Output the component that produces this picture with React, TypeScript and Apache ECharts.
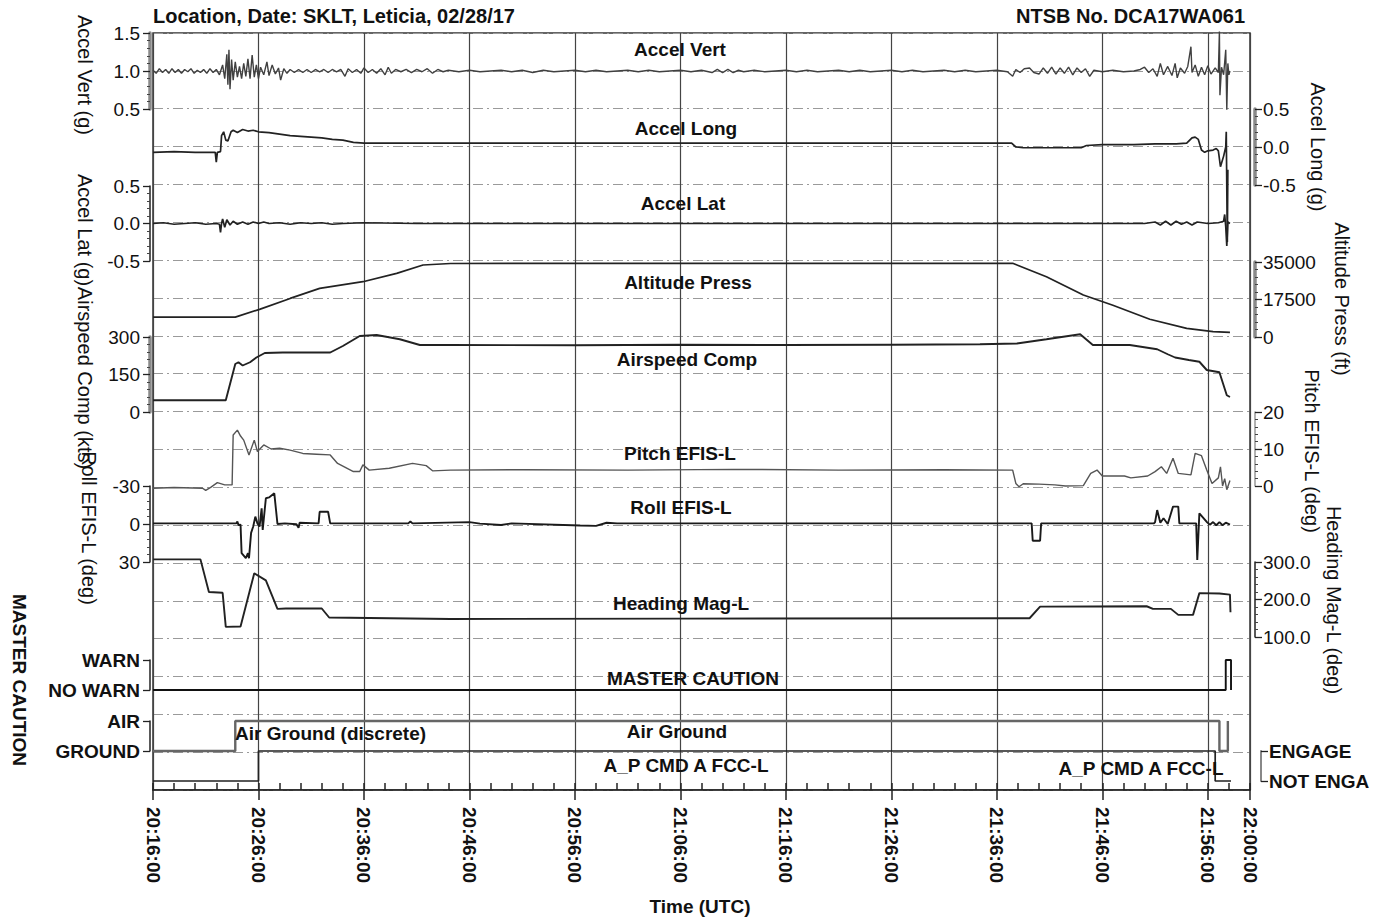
import React, { useEffect, useRef } from "react";
import * as echarts from "echarts";

// time in minutes after 20:16:00 UTC
const T_MAX = 104;

const accelVert: [number, number][] = [
  [0,1.01],[0.3,0.97],[0.6,1.03],[0.9,0.98],[1.2,1.02],[1.5,0.97],[1.8,1.03],[2.1,0.98],[2.4,1.02],[2.7,0.97],[3.0,1.02],[3.3,0.99],[3.6,1.03],[3.9,0.97],[4.2,1.01],[4.5,0.98],[4.8,1.02],[5.1,0.97],[5.4,1.03],[5.7,0.98],[6.0,1.02],[6.3,0.95],
  [6.6,1.08],[6.8,0.9],[7.0,1.22],[7.1,0.82],[7.2,1.28],[7.3,0.76],[7.45,1.15],[7.6,0.88],[7.8,1.12],[8.0,0.92],[8.2,1.06],[8.4,0.9],[8.6,1.1],[8.8,0.93],[9.0,1.16],[9.2,0.9],[9.4,1.21],[9.6,0.92],[9.8,1.08],[10.0,0.9],[10.2,1.05],[10.5,0.95],[10.8,1.12],[11.0,0.94],[11.3,1.08],[11.6,0.96],[11.9,1.04],[12.1,0.88],[12.4,1.03],[12.7,0.97],[13.0,1.02],[13.4,0.98],[13.8,1.02],[14.2,0.98],[14.6,1.02],[15.0,0.98],[15.4,1.02],[15.8,0.99],[16.2,1.02],[16.6,0.98],[17.0,1.02],[17.4,0.99],[17.8,1.02],[18.2,0.93],[18.5,1.03],[18.9,0.98],[19.3,1.02],[19.7,0.97],[20.0,1.04],[20.4,0.98],[20.8,1.02],[21.2,0.97],[21.6,1.03],[22.0,0.95],[22.3,1.05],[22.6,0.97],[23.0,1.02],[23.5,0.99],[24.0,1.02],[24.5,0.98],[25.0,1.02],[25.5,0.99],[26.0,1.03],[26.5,0.97],[27.0,1.02],[27.5,0.99],[28.0,1.01],
  [29,0.99],[30,1.01],[31,0.99],[32,1.0],[33,1.01],[34,0.99],[35,1.01],[36,0.98],[37,1.01],[38,0.99],[39,1.0],[40,1.01],[41,0.99],[42,1.01],[43,0.99],[44,1.0],[45,1.01],[46,0.99],[47,1.01],[48,0.99],[49,1.0],[50,1.01],[51,0.99],[52,1.01],[53,0.98],[53.5,1.02],[54,0.98],[54.5,1.02],[55,0.98],[55.5,1.01],[56,0.99],[57,1.01],[58,0.99],[59,1.0],[60,1.01],[61,0.99],[62,1.01],[63,0.99],[64,1.0],[65,1.01],[66,0.99],[67,1.01],[68,0.99],[69,1.0],[70,1.01],[71,0.99],[72,1.01],[73,0.99],[74,1.0],[75,1.01],[76,0.99],[77,1.01],[78,0.99],[79,1.0],[80,1.01],[81,0.99],
  [81.5,0.93],[81.8,1.02],[82.2,0.98],[82.6,1.03],[83.1,1.04],[83.5,0.98],[84.0,0.96],[84.4,1.04],[84.8,0.97],[85.2,1.05],[85.6,0.96],[86.0,1.04],[86.4,0.97],[86.8,1.05],[87.2,0.95],[87.6,1.04],[88.0,0.98],[88.4,1.03],[88.8,0.93],[89.2,1.01],[90,0.99],[91,1.01],[92,0.99],[93,1.0],[93.6,1.02],[94.0,1.05],[94.4,0.98],[94.8,1.03],[95.2,0.93],[95.5,1.1],[95.8,0.95],[96.2,1.06],[96.6,0.94],[96.9,1.1],[97.1,0.91],[97.4,1.04],[97.8,0.97],[98.1,1.06],[98.4,1.32],[98.5,0.98],[98.8,1.08],[99.1,0.93],[99.4,1.05],[99.7,0.95],[100.0,1.07],[100.3,0.96],[100.7,1.04],[101.0,0.98],[101.1,1.52],[101.15,0.68],[101.3,1.05],[101.5,0.95],[101.7,1.28],[101.8,0.49],[101.9,1.1],[102.0,0.95],[102.1,1.0]
];

const accelLong: [number, number][] = [
  [0,-0.07],[2,-0.06],[4,-0.07],[5.9,-0.07],[6.0,-0.2],[6.1,-0.07],[6.4,-0.06],[6.5,0.15],[6.7,0.2],[6.9,0.09],[7.1,0.08],[7.4,0.2],[7.6,0.22],[8.0,0.19],[8.5,0.23],[9.0,0.21],[9.5,0.22],[10.0,0.2],[11,0.19],[12,0.17],[13,0.15],[14,0.14],[15,0.13],[16,0.12],[17,0.1],[18,0.09],[19,0.06],[20,0.05],[40,0.05],[60,0.05],[81.4,0.05],
  [81.8,0.0],[82.5,-0.01],[85,-0.01],[88,-0.01],[88.5,0.02],[90,0.03],[93,0.03],[95,0.04],[97,0.04],[98,0.05],[98.5,0.12],[98.8,0.13],[99.1,0.1],[99.4,-0.04],[99.7,-0.07],[100,-0.05],[100.5,-0.04],[100.8,-0.02],[101.0,-0.05],[101.2,-0.26],[101.5,-0.12],[101.7,0.0],[101.75,0.2],[101.85,-1.25],[101.9,-0.3]
];

const accelLat: [number, number][] = [
  [0,0.0],[1,0.01],[2,-0.01],[3,0.0],[4,0.01],[5,-0.01],[6,0.0],[6.3,-0.01],[6.4,-0.12],[6.5,0.0],[6.6,0.06],[6.8,-0.05],[7.0,0.05],[7.3,-0.02],[7.6,0.03],[8.0,-0.01],[8.5,0.02],[9.0,-0.01],[9.5,0.02],[10,0.0],[10.5,0.02],[11,0.0],[12,0.01],[13,-0.01],[14,0.01],[15,0.0],[16,0.01],[17,-0.01],[18,0.0],[20,0.01],[25,0.0],[40,0.0],[60,0.0],[80,0.0],[94,0.0],
  [95,0.02],[95.5,-0.02],[96,0.03],[96.5,-0.02],[97,0.03],[97.5,-0.01],[98,0.02],[98.5,-0.02],[99,0.02],[100,0.0],[101,0.01],[101.5,0.03],[101.6,0.12],[101.7,-0.04],[101.8,-0.3],[101.9,0.02],[102.1,0.0]
];

const altitude: [number, number][] = [
  [0,9300],[7.8,9300],[10.1,12900],[13,18000],[15.8,22700],[19.9,25800],[23.1,29700],[25.6,33600],[28.2,34300],[40,34400],[60,34400],[81.5,34400],[84.7,28100],[88.2,19600],[91,14800],[94.5,8300],[98,4000],[100.5,2500],[102.1,2200]
];

const airspeed: [number, number][] = [
  [0,47],[6.9,47],[7.8,192],[8.1,199],[8.5,186],[9.2,199],[9.8,218],[10.6,236],[12.3,238],[14,238],[16.8,238],[18,264],[19.6,304],[21.2,308],[23.4,291],[25.3,268],[28.2,268],[40,267],[50,269],[60,268],[70,269],[78.4,271],[81.9,274],[84.7,291],[87.9,311],[89.1,268],[92.6,268],[95.2,251],[96.2,231],[96.9,218],[98.2,208],[99.2,201],[99.9,168],[101.1,159],[101.8,67],[102.1,60]
];

const pitch: [number, number][] = [
  [0,-0.6],[2,-0.4],[4.7,-0.6],[5.0,-1.2],[5.5,-0.3],[6.1,0.9],[6.8,0.3],[7.5,0.3],[7.6,13.8],[8.0,15.1],[8.3,13.5],[8.6,12.4],[9.1,8.4],[9.6,12.4],[9.9,9.3],[10.5,11.1],[11.2,10.0],[12,10.2],[13,9.7],[14.2,8.8],[15.5,8.6],[16.8,8.4],[17.5,6.1],[19,3.9],[19.6,3.9],[19.9,5.7],[20.5,4.3],[22.4,4.8],[24.6,6.1],[25.9,5.5],[26.5,4.1],[28.2,4.3],[35,4.4],[45,4.3],[55,4.5],[65,4.3],[75,4.4],[81.5,4.3],
  [81.8,0.7],[82.1,-0.2],[82.5,0.6],[84,0.5],[85.5,0.3],[86.5,0.0],[88.2,0.1],[88.9,3.4],[89.5,4.3],[90,2.7],[92.1,2.7],[92.7,2.2],[94.3,2.7],[95,3.9],[95.6,5.2],[96.1,3.4],[96.7,7.5],[97.2,3.4],[98.4,3.0],[98.8,8.8],[99.4,8.2],[99.9,4.3],[100.4,0.7],[101,2.2],[101.2,5.2],[101.4,0.0],[101.6,2.0],[101.8,-1.0],[102.1,1.5]
];

const roll: [number, number][] = [
  [0,-0.5],[4,-0.5],[7.9,-0.5],[8.0,-2],[8.1,0.8],[8.3,0.5],[8.4,23],[8.8,27],[9.0,23],[9.1,27],[9.3,7],[9.5,2],[9.7,-5.8],[9.9,-0.5],[10.1,2],[10.3,-12.4],[10.4,4.7],[10.7,-20.3],[11.0,-21],[11.5,-24.2],[11.8,0],[12.5,-0.5],[13.6,0.2],[13.8,3],[13.9,-1],[15.7,-0.5],[15.8,-9.7],[16.6,-9.7],[16.8,-0.5],[24.2,-0.5],[24.4,-2],[24.6,-0.5],[30,-1.5],[31,-0.3],[33,0.8],[34,-0.5],[40.5,1.2],[42,1.5],[43,-1],[44,-0.5],
  [83.3,-0.5],[83.4,13.2],[84.1,13.2],[84.2,-0.5],[94.9,-0.5],[95.0,-1.5],[95.2,-11],[95.5,-1],[95.8,-4.5],[96.2,0],[96.7,-13.7],[97.2,-13.7],[97.3,-0.5],[98.9,-0.5],[99.0,28.4],[99.2,-8.4],[99.9,-1.6],[100.2,0.5],[100.5,-1.5],[100.8,1],[101.1,-1.5],[101.4,1],[101.7,-1],[102.1,0.5]
];

const heading: [number, number][] = [
  [0,307],[4.5,307],[5.3,220],[6.6,218],[6.9,127],[8.3,128],[9.6,270],[10.7,251],[11.8,175],[12.6,176],[16,176],[16.7,152],[28.2,148],[50,149],[83.1,150],[84.1,181],[94.2,182],[94.8,175],[96.5,175],[97.2,159],[98.6,159],[99.2,217],[101.1,216],[102.1,213],[102.15,166]
];

const masterCaution: [number, number][] = [[0,0],[101.7,0],[101.7,1],[102.2,1],[102.2,0]];
const airGround: [number, number][] = [[0,0],[7.8,0],[7.8,1],[101.1,1],[101.1,0],[101.9,0],[101.9,1]];
const apCmd: [number, number][] = [[0,0],[10,0],[10,1],[100.7,1],[100.7,0],[102.2,0]];

const timeLabel = (v: number) => {
  const tot = 20 * 60 + 16 + Math.round(v);
  const h = Math.floor(tot / 60);
  const m = tot % 60;
  return `${h}:${m < 10 ? "0" + m : m}:00`;
};

const FONT = "'Liberation Sans', Arial, Helvetica, sans-serif";
const GL = 153;
const GR = 1392 - 1250;

export default function App() {
  const ref = useRef<HTMLDivElement>(null);
  useEffect(() => {
    document.body.style.margin = "0";
    if (!ref.current) return;
    const chart = echarts.init(ref.current, null, { renderer: "svg" });

    const panels = [
      { top: 33, h: 76, pos: "left", min: 0.5, max: 1.5, iv: 0.5, fmt: (v: number) => v.toFixed(1), line: "#8a8a8a", lw: 3.5, data: accelVert, color: "#404040", w: 1.4 },
      { top: 109, h: 76, pos: "right", min: -0.5, max: 0.5, iv: 0.5, fmt: (v: number) => v.toFixed(1), line: "#8a8a8a", lw: 3.5, data: accelLong, color: "#222", w: 1.7 },
      { top: 186, h: 75, pos: "left", min: -0.5, max: 0.5, iv: 0.5, fmt: (v: number) => v.toFixed(1), line: "#222", lw: 1.5, data: accelLat, color: "#222", w: 1.7 },
      { top: 262, h: 75, pos: "right", min: 0, max: 35000, iv: 17500, fmt: (v: number) => String(v), line: "#8a8a8a", lw: 3.5, data: altitude, color: "#222", w: 1.7 },
      { top: 337, h: 75, pos: "left", min: 0, max: 300, iv: 150, fmt: (v: number) => String(v), line: "#8a8a8a", lw: 3.5, data: airspeed, color: "#222", w: 1.9 },
      { top: 412, h: 74, pos: "right", min: 0, max: 20, iv: 10, fmt: (v: number) => String(v), line: "#999", lw: 1.5, data: pitch, color: "#555", w: 1.4 },
      { top: 486, h: 76, pos: "left", min: -30, max: 30, iv: 30, fmt: (v: number) => String(v), line: "#222", lw: 1.5, data: roll, color: "#1a1a1a", w: 1.9, inverse: true },
      { top: 562, h: 75, pos: "right", min: 100, max: 300, iv: 100, fmt: (v: number) => v.toFixed(1), line: "#222", lw: 1.5, data: heading, color: "#222", w: 1.9 },
      { top: 660, h: 30, pos: "left", min: 0, max: 1, iv: 1, fmt: (v: number) => (v === 1 ? "WARN" : "NO WARN"), line: "#222", lw: 1.5, data: masterCaution, color: "#111", w: 1.9, bold: true, discrete: true },
      { top: 721, h: 30, pos: "left", min: 0, max: 1, iv: 1, fmt: (v: number) => (v === 1 ? "AIR" : "GROUND"), line: "#222", lw: 1.5, data: airGround, color: "#666", w: 2.4, bold: true, discrete: true },
      { top: 751, h: 30, pos: "right", min: 0, max: 1, iv: 1, fmt: (v: number) => (v === 1 ? "ENGAGE" : "NOT ENGA"), line: "#888", lw: 2, data: apCmd, color: "#222", w: 1.7, bold: true, discrete: true, off: 11 },
    ];

    const grids: any[] = [
      { left: GL, right: GR, top: 33, height: 757, show: true, borderColor: "#333", borderWidth: 1.5, outerBoundsMode: "none", containLabel: false },
    ];
    const xAxes: any[] = [
      {
        gridIndex: 0, type: "value", position: "bottom", min: 0, max: T_MAX, interval: 10,
        axisLine: { show: true, onZero: false, lineStyle: { color: "#222", width: 1.5 } },
        axisTick: { show: true, inside: false, length: 10, lineStyle: { color: "#222", width: 1.5 } },
        axisLabel: { rotate: -90, formatter: timeLabel, fontFamily: FONT, fontWeight: "bold", fontSize: 19, color: "#111", margin: 17, showMaxLabel: true, showMinLabel: true },
        splitLine: { show: true, lineStyle: { color: "#444", width: 1.2 } },
      },
      {
        gridIndex: 0, type: "value", position: "bottom", min: 0, max: T_MAX, interval: 2,
        axisLine: { show: false, onZero: false }, axisLabel: { show: false }, splitLine: { show: false },
        axisTick: { show: true, inside: true, length: 7, lineStyle: { color: "#222", width: 1.5 } },
      },
    ];
    const yAxes: any[] = [
      {
        gridIndex: 0, type: "value", min: 0, max: 20, interval: 1,
        axisLine: { show: false, onZero: false }, axisTick: { show: false }, axisLabel: { show: false },
        splitLine: { show: true, lineStyle: { color: "#9a9a9a", width: 1, type: [10, 4, 2, 4] } },
      },
    ];
    const series: any[] = [];

    panels.forEach((p: any, i) => {
      const gi = i + 1;
      grids.push({ left: GL, right: GR, top: p.top, height: p.h, outerBoundsMode: "none", containLabel: false });
      xAxes.push({ gridIndex: gi, type: "value", min: 0, max: T_MAX, show: false, axisLine: { onZero: false } });
      const isLeft = p.pos === "left";
      yAxes.push({
        gridIndex: gi, type: "value", position: p.pos, min: p.min, max: p.max, interval: p.iv,
        inverse: !!p.inverse,
        offset: p.off ?? (isLeft ? 3 : 5),
        axisLine: { show: true, onZero: false, lineStyle: { color: p.line, width: p.lw } },
        axisTick: { show: true, inside: false, length: 7, lineStyle: { color: "#222", width: 1.3 } },
        minorTick: { show: !p.discrete, splitNumber: 5, length: 3, lineStyle: { color: "#444", width: 1 } },
        axisLabel: {
          formatter: p.fmt, fontFamily: FONT, fontSize: 19, color: "#111",
          fontWeight: p.bold ? "bold" : "normal", margin: isLeft ? 10 : 8,
          padding: [6, 0, 0, 0],
        },
        splitLine: { show: false },
      });
      series.push({
        type: "line", xAxisIndex: gi + 1, yAxisIndex: gi, data: p.data,
        showSymbol: false, symbol: "none", clip: false, silent: true, z: 5,
        lineStyle: { color: p.color, width: p.w },
      });
    });

    const t = (text: string, x: number, y: number, o: any = {}) => ({
      type: "text", x, y, rotation: o.rot ?? 0, z: 100, silent: true,
      style: {
        text, fill: "#111", fontFamily: FONT, fontSize: o.size ?? 19,
        fontWeight: o.bold === false ? "normal" : "bold",
        align: o.align ?? "center", verticalAlign: "middle",
        textAlign: o.align ?? "center", textVerticalAlign: "middle",
      },
    });
    const R = -Math.PI / 2;

    const graphic = [
      t("Location, Date: SKLT, Leticia, 02/28/17", 153, 16, { align: "left", size: 20 }),
      t("NTSB No. DCA17WA061", 1245, 16, { align: "right", size: 20 }),
      t("Accel Vert", 680, 49),
      t("Accel Long", 686, 128),
      t("Accel Lat", 683, 203),
      t("Altitude Press", 688, 282),
      t("Airspeed Comp", 687, 359),
      t("Pitch EFIS-L", 680, 453),
      t("Roll EFIS-L", 681, 507),
      t("Heading Mag-L", 681, 603),
      t("MASTER CAUTION", 693, 678),
      t("Air Ground", 677, 731),
      t("Air Ground (discrete)", 235, 733, { align: "left" }),
      t("A_P CMD A FCC-L", 686, 765),
      t("A_P CMD A FCC-L", 1141, 768),
      t("Time (UTC)", 700, 906),
      t("Accel Vert (g)", 85, 75, { rot: R, bold: false, size: 20 }),
      t("Accel Lat (g)", 85, 230, { rot: R, bold: false, size: 20 }),
      t("Airspeed Comp (kts)", 85, 378, { rot: R, bold: false, size: 20 }),
      t("Roll EFIS-L (deg)", 89, 528, { rot: R, bold: false, size: 20 }),
      t("MASTER CAUTION", 19, 680, { rot: R }),
      t("Accel Long (g)", 1318, 147, { rot: R, bold: false, size: 20 }),
      t("Altitude Press (ft)", 1342, 299, { rot: R, bold: false, size: 20 }),
      t("Pitch EFIS-L (deg)", 1312, 451, { rot: R, bold: false, size: 20 }),
      t("Heading Mag-L (deg)", 1334, 600, { rot: R, bold: false, size: 20 }),
    ];

    chart.setOption({
      animation: false,
      backgroundColor: "#ffffff",
      grid: grids,
      xAxis: xAxes,
      yAxis: yAxes,
      series,
      graphic,
    });
    return () => chart.dispose();
  }, []);
  return <div ref={ref} style={{ width: 1392, height: 920 }} />;
}
